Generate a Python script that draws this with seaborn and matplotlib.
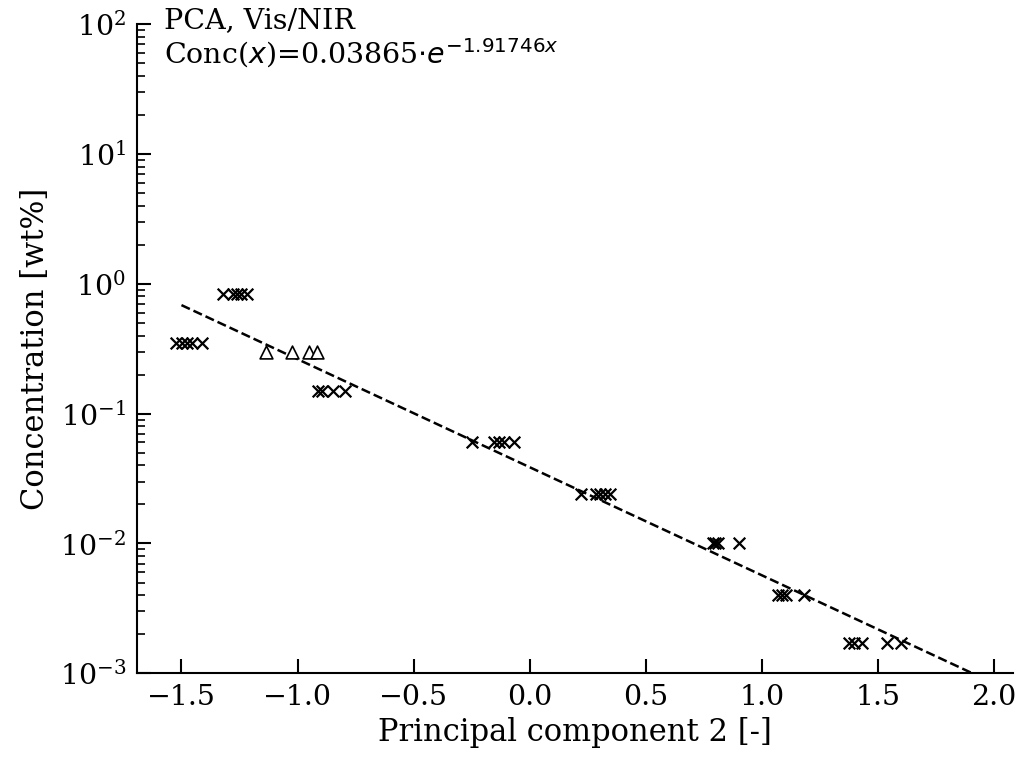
import numpy as np
import pandas as pd
import matplotlib
matplotlib.use("Agg")
import matplotlib.pyplot as plt
import seaborn as sns

# ---- data ----
pc2_cross = [-1.524, -1.498, -1.477, -1.455, -1.412,
             -1.322, -1.279, -1.262, -1.245, -1.219,
             -0.911, -0.894, -0.847, -0.795,
             -0.247, -0.152, -0.131, -0.109, -0.067,
             0.219, 0.285, 0.302, 0.324, 0.345,
             0.79, 0.80, 0.81, 0.90,
             1.069, 1.086, 1.104, 1.181,
             1.374, 1.395, 1.43, 1.537, 1.597]
conc_cross = [0.35] * 5 + [0.83] * 5 + [0.15] * 4 + [0.06] * 5 + [0.024] * 5 + \
             [0.01] * 4 + [0.004] * 4 + [0.0017] * 5

pc2_tri = [-1.134, -1.024, -0.949, -0.916]
conc_tri = [0.30, 0.30, 0.30, 0.30]

fit_a = 0.03865
fit_b = -1.91746
fit_x = [-1.5, 1.9]
fit_y = [fit_a * np.exp(fit_b * v) for v in fit_x]

x_ticks = [-1.5, -1.0, -0.5, 0.0, 0.5, 1.0, 1.5, 2.0]

# ---- style ----
sns.set_style("ticks")
plt.rcParams["font.family"] = ["DejaVu Serif"]
plt.rcParams["mathtext.fontset"] = "dejavusans"
for k in ["text.color", "axes.labelcolor", "xtick.color", "ytick.color", "axes.edgecolor"]:
    plt.rcParams[k] = "black"

fig = plt.figure(figsize=(10.25, 7.59), dpi=100)
ax = fig.add_axes([0.134, 0.113, 0.854, 0.855])

df_c = pd.DataFrame({"x": pc2_cross, "y": conc_cross})
df_t = pd.DataFrame({"x": pc2_tri, "y": conc_tri})
df_f = pd.DataFrame({"x": fit_x, "y": fit_y})

sns.scatterplot(data=df_c, x="x", y="y", marker="x", s=70, color="black",
                linewidth=1.6, ax=ax, zorder=3)
sns.scatterplot(data=df_t, x="x", y="y", marker="^", s=85, facecolor="white",
                edgecolor="black", linewidth=1.2, ax=ax, zorder=3)
sns.lineplot(data=df_f, x="x", y="y", color="black", linestyle="--",
             linewidth=1.8, ax=ax, zorder=2)

ax.set_yscale("log")
ax.set_ylim(1e-3, 1e2)
ax.set_xlim(-1.69, 2.08)
ax.set_xticks(x_ticks)
ax.set_xlabel("Principal component 2 [-]", fontsize=22, labelpad=4)
ax.set_ylabel("Concentration [wt%]", fontsize=22, labelpad=6)

sns.despine(ax=ax)
for s in ["left", "bottom"]:
    ax.spines[s].set_linewidth(1.5)
ax.tick_params(which="major", direction="in", length=10, width=1.5, labelsize=20.5)
ax.tick_params(which="minor", direction="in", length=6, width=1.2)
ax.tick_params(axis="x", pad=8)
ax.tick_params(axis="y", pad=8)

ax.text(0.03, 1.027, "PCA, Vis/NIR\n" + r"Conc($x$)=0.03865$\cdot e^{-1.91746x}$",
        transform=ax.transAxes, va="top", ha="left", fontsize=20.5, linespacing=1.1)

fig.savefig("out.png", dpi=100)
